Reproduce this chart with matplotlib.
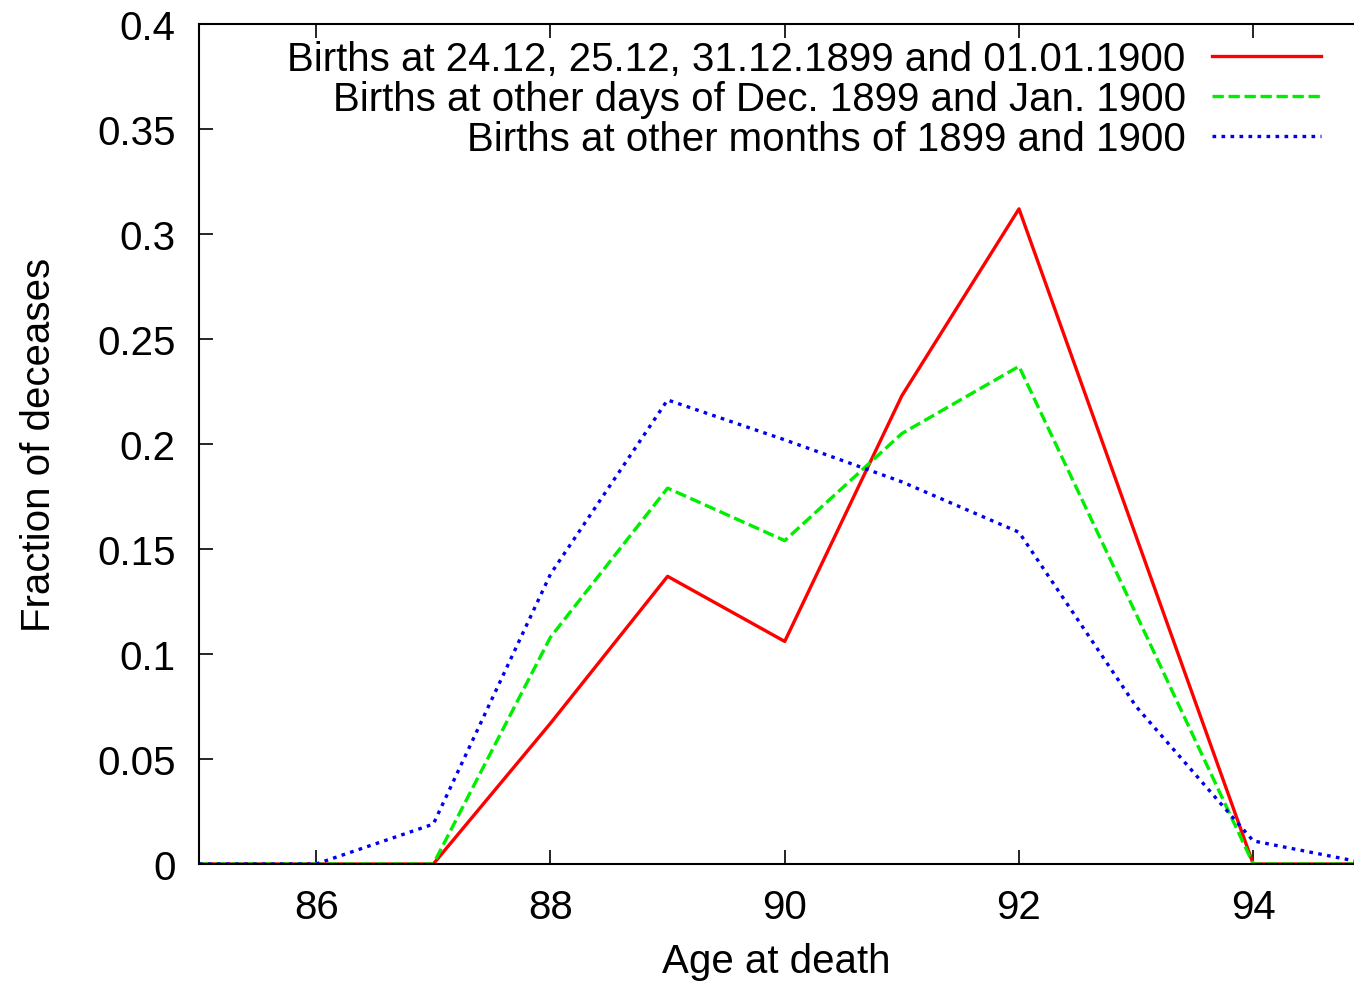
import matplotlib
matplotlib.use("Agg")
import matplotlib.pyplot as plt

# ages and fraction of deceases for each birth group
ages = [85, 86, 87, 88, 89, 90, 91, 92, 93, 94, 95]
special_days = [0, 0, 0, 0.067, 0.137, 0.106, 0.223, 0.312, 0.156, 0, 0]
other_days = [0, 0, 0, 0.108, 0.179, 0.154, 0.205, 0.237, 0.119, 0, 0]
other_months = [0, 0, 0.019, 0.138, 0.221, 0.202, 0.182, 0.158, 0.075, 0.011, 0]

labels = ["Births at 24.12, 25.12, 31.12.1899 and 01.01.1900",
          "Births at other days of Dec. 1899 and Jan. 1900",
          "Births at other months of 1899 and 1900"]

xticks = [86, 88, 90, 92, 94]
yticks = [0, 0.05, 0.1, 0.15, 0.2, 0.25, 0.3, 0.35, 0.4]
ytick_labels = ["0", "0.05", "0.1", "0.15", "0.2", "0.25", "0.3", "0.35", "0.4"]

plt.rcParams["font.family"] = ["Liberation Sans", "DejaVu Sans"]
plt.rcParams["font.size"] = 29

fig = plt.figure(figsize=(13.54, 9.87), dpi=100)
ax = fig.add_axes([0.147, 0.1236, 0.853, 0.851])

ax.plot(ages, special_days, color="#ff0000", lw=2.4, label=labels[0])
ax.plot(ages, other_days, color="#00ee00", lw=2.4, dashes=(3.4, 1.4), label=labels[1])
ax.plot(ages, other_months, color="#0000ee", lw=2.4, dashes=(1.1, 1.6), label=labels[2])

ax.set_xlim(85, 94.86)
ax.set_ylim(0, 0.4)
ax.set_xticks(xticks)
ax.set_yticks(yticks)
ax.set_yticklabels(ytick_labels)
ax.tick_params(direction="in", length=10, width=1.2, top=True, pad=17)
ax.spines["right"].set_visible(False)
for s in ["left", "top", "bottom"]:
    ax.spines[s].set_linewidth(1.5)

ax.set_xlabel("Age at death", labelpad=12)
ax.set_ylabel("Fraction of deceases", labelpad=28)

ax.legend(loc="upper right", frameon=False, markerfirst=False,
          handlelength=2.7, handletextpad=0.65, borderaxespad=0.0,
          labelspacing=0.05, bbox_to_anchor=(0.985, 1.0))

fig.savefig("out.png", dpi=100)
